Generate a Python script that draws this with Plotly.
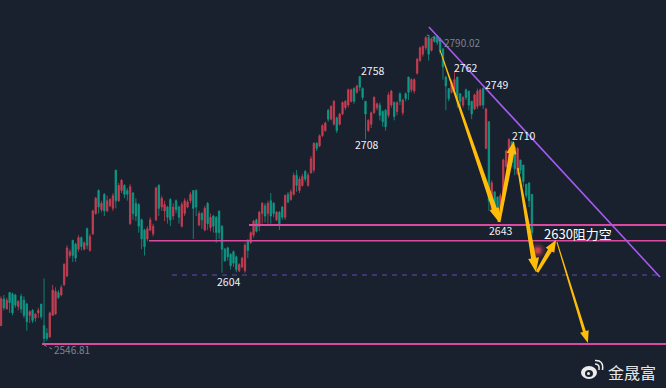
import math
import plotly.graph_objects as go

opens = [2562,2583,2575,2588,2587,2586,2577,2585,2582,2579,
2570,2574,2568,2572,2579,2562,2556,2553,2570,2571,
2588,2586,2594,2601,2617,2629,2626,2622,2631,2622,
2638,2621,2634,2650,2668,2653,2665,2652,2656,2654,
2684,2660,2668,2672,2668,2642,2666,2658,2657,2645,
2637,2630,2637,2634,2645,2672,2655,2652,2655,2661,
2648,2660,2655,2640,2650,2655,2660,2668,2668,2641,
2650,2637,2658,2639,2648,2647,2652,2640,
2622,2623,2618,2620,2616,2605,2608,2605,2628,2627,2633,2645,2640,2650,2656,2650,2660,2658,2645,2651,2655,2647,2665,2661,2665,2680,2668,2672,2683,2672,2682,2684,2705,2703,2711,2715,2731,2724,2720,2725,2720,2728,2733,2735,2738,2748,2745,2757.5,2748,2738,2715,2720,2729,2733,2735,2730,2731,2727,2735,2737,2730,2744,2729,2744,2757,2747,2746,
2760,2770,2775,2780,2788,2778,2789,2789,2787,2779,2757,2748,2745,2747,2757,2744,2735,2747,2746,2738,2732,2734,2735,2748,2701,2722,2652,2667,2663,2655,2665,2687,2688,2706,2702,2681,2692,2688,2673,2674,2665]
highs = [2585,2586,2584,2588,2588,2587,2582,2587,2585,2580,
2574,2575,2572,2576,2579,2599,2560,2573,2594,2592,
2590,2594,2611,2625,2622,2629,2627,2633,2632,2628,
2639,2634,2653,2663,2669,2660,2666,2664,2662,2666,
2684,2674,2677,2673,2670,2673,2667,2662,2658,2646,
2638,2640,2647,2642,2671,2673,2664,2660,2656,2662,
2658,2661,2656,2659,2662,2661,2667,2668,2669,2652,
2651,2656,2659,2650,2649,2648,2652,2641,
2623,2624,2619,2621,2617,2611,2616,2627,2630,2636,2645,2646,2652,2659,2658,2660,2666,2659,2652,2652,2656,2665,2667,2669,2682,2684,2679,2681,2684,2682,2695,2706,2706,2712,2720,2722,2732,2735,2739,2726,2729,2738,2739,2748,2748,2749,2751,2757.5,2749,2738,2724,2730,2742,2737,2737,2731,2732,2745,2747,2738,2738,2745,2740,2745,2757,2756,2756,
2772,2781,2782,2789,2789,2788,2789,2790.02,2788,2780,2758,2748,2755,2761.5,2757,2744,2742,2748,2746,2738,2744,2748,2748,2749,2733,2722,2676,2667,2663,2666,2693,2700,2709,2707,2703,2702,2692,2688,2673,2674,2665]
lows = [2562,2574,2575,2572,2570,2576,2574,2572,2568,2558,
2564,2564,2565,2568,2567,2546.81,2550,2553,2570,2571,
2583,2585,2593,2600,2615,2612,2612,2620,2621,2621,
2622,2620,2633,2649,2650,2651,2648,2651,2655,2652,
2654,2659,2666,2662,2660,2641,2645,2644,2635,2622,
2617,2628,2636,2632,2644,2648,2652,2644,2642,2640,
2645,2650,2642,2639,2648,2654,2658,2630,2648,2640,
2638,2636,2637,2636,2635,2627,2630,2603.5,
2612,2613,2606,2608,2604,2604,2607,2603.5,2615,2626,2631,2635,2636,2642,2643,2642,2642,2647,2644,2637,2645,2645,2658,2660,2664,2667,2666,2671,2675,2671,2681,2682,2699,2702,2710,2714,2722,2723,2719,2713,2719,2727,2731,2733,2737,2736,2744,2746,2739,2708,2714,2717,2728,2731,2723,2718,2715,2725,2733,2723,2727,2735,2727,2738,2739,2745,2744,
2759,2769,2773,2778,2770,2777,2784,2782,2775,2755,2731,2738,2744,2745,2733,2733,2733,2739,2731,2724,2731,2732,2734,2732,2701,2652,2651,2650,2645,2652,2664,2686,2686,2686,2680,2680,2681,2671,2662,2655,2632]
closes = [2583,2576,2582,2580,2572,2578,2581,2575,2570,2565,
2573,2566,2571,2574,2569,2552,2552,2572,2590,2589,
2584,2592,2610,2623,2620,2617,2615,2631,2624,2627,
2625,2632,2652,2662,2655,2658,2652,2660,2661,2664,
2660,2672,2676,2665,2665,2671,2650,2648,2640,2630,
2624,2638,2645,2640,2670,2654,2662,2657,2647,2645,
2655,2653,2647,2657,2660,2659,2665,2654,2655,2650,
2645,2654,2642,2647,2640,2635,2635,2622,
2613,2616,2609,2611,2606,2610,2615,2625,2621,2635,2644,2636,2651,2658,2648,2658,2648,2650,2651,2642,2647,2664,2659,2667,2680,2672,2677,2679,2677,2680,2693,2705,2701,2711,2719,2721,2724,2734,2738,2715,2728,2737,2738,2747,2747,2738,2750,2749,2741,2728,2723,2729,2741,2736,2727,2722,2718,2743,2746,2726,2737,2738,2739,2740,2745,2755,2755,
2771,2780,2781,2788,2775,2787,2785,2784,2777,2765,2750,2740,2753,2755,2740,2738,2741,2741,2735,2728,2743,2746,2747,2735,2732,2660,2674,2655,2650,2664,2692,2699,2708,2690,2685,2701,2684,2675,2664,2660,2635]

level_prices = [2641.0, 2628.6, 2547.6]
level_starts = [86.4, 51.6, 14.3]
level_widths = [2, 1.7, 1.8]
support_price = 2601.7
support_range = [59.6, 230]
trend_x = [149.1, 229.6]
trend_y = [2796.3, 2600.2]

arrow_x0 = [153.0, 173.5, 180.1, 186.8, 193.7]
arrow_y0 = [2778.0, 2643.3, 2685.7, 2604.0, 2627.6]
arrow_x1 = [173.5, 178.7, 186.4, 193.4, 204.5]
arrow_y1 = [2643.3, 2706.9, 2604.1, 2629.2, 2548.4]
arrow_tail = [1, 3, 1.5, 3, 1]
arrow_neck = [5, 5, 5, 4.5, 3]
arrow_head = [10, 10, 11, 10, 9]
arrow_hlen = [14, 13, 14, 12, 12]

label_text = ["2758", "2708", "2604", "2762", "2749", "2710", "2643"]
label_x = [129.5, 127.2, 79.1, 162.0, 172.5, 182.2, 174.0]
label_y = [2761.8, 2704.3, 2596.5, 2764.4, 2750.8, 2710.8, 2636.5]
extreme_text = ["2790.02", "2546.81"]
extreme_x = [153.8, 17.6]
extreme_y = [2784.5, 2543.0]

W, H = 666, 388
PX_BAR = 2.87
PRICE_PER_PX = 0.7845
y_range = [2546.81 - (H - 345) * PRICE_PER_PX, 2546.81 + 345 * PRICE_PER_PX]
x_range = [-1 / PX_BAR, (W - 1) / PX_BAR]
BG = "#19202e"
PINK = "#dc4aa0"
YELLOW = "#ffbd0a"

fig = go.Figure()
fig.add_trace(go.Candlestick(
    x=list(range(len(opens))), open=opens, high=highs, low=lows, close=closes,
    increasing=dict(line=dict(color="#c83f52", width=0.8), fillcolor="#c83f52"),
    decreasing=dict(line=dict(color="#0e9a86", width=0.8), fillcolor="#0e9a86"),
    whiskerwidth=0, hoverinfo="skip", showlegend=False))

for p, s, w in zip(level_prices, level_starts, level_widths):
    fig.add_trace(go.Scatter(x=[s, x_range[1]], y=[p, p], mode="lines",
                             line=dict(color=PINK, width=w), hoverinfo="skip", showlegend=False))
fig.add_trace(go.Scatter(x=support_range, y=[support_price] * 2, mode="lines",
                         line=dict(color="#6a4db0", width=1, dash="5px,5px"), hoverinfo="skip", showlegend=False))
fig.add_trace(go.Scatter(x=trend_x, y=trend_y, mode="lines",
                         line=dict(color="#a55af0", width=1.6), hoverinfo="skip", showlegend=False))

for size, alpha in [(16, .12), (12, .2), (8, .35), (5, .55)]:
    fig.add_trace(go.Scatter(x=[187.0], y=[2621.0], mode="markers",
                             marker=dict(size=size, color=f"rgba(240,75,95,{alpha})", line=dict(width=0)),
                             hoverinfo="skip", showlegend=False))

def arrow_poly(x0, y0, x1, y1, tail, neck, head, hlen):
    px0, py0 = x0 * PX_BAR, y0 / PRICE_PER_PX
    px1, py1 = x1 * PX_BAR, y1 / PRICE_PER_PX
    L = math.hypot(px1 - px0, py1 - py0)
    ux, uy = (px1 - px0) / L, (py1 - py0) / L
    nx, ny = -uy, ux
    bx, by = px1 - ux * hlen, py1 - uy * hlen
    pts = [(px0 + nx * tail / 2, py0 + ny * tail / 2),
           (bx + nx * neck / 2, by + ny * neck / 2),
           (bx + nx * head / 2, by + ny * head / 2),
           (px1, py1),
           (bx - nx * head / 2, by - ny * head / 2),
           (bx - nx * neck / 2, by - ny * neck / 2),
           (px0 - nx * tail / 2, py0 - ny * tail / 2)]
    pts.append(pts[0])
    return [p[0] / PX_BAR for p in pts], [p[1] * PRICE_PER_PX for p in pts]

for a in zip(arrow_x0, arrow_y0, arrow_x1, arrow_y1, arrow_tail, arrow_neck, arrow_head, arrow_hlen):
    xs, ys = arrow_poly(*a)
    fig.add_trace(go.Scatter(x=xs, y=ys, mode="lines", fill="toself", fillcolor=YELLOW,
                             line=dict(width=0, color=YELLOW), hoverinfo="skip", showlegend=False))

fig.add_trace(go.Scatter(x=[148.4, 153.0], y=[2790.02, 2785.5], mode="lines",
                         line=dict(color="#7d8490", width=1, dash="dot"), hoverinfo="skip", showlegend=False))
fig.add_trace(go.Scatter(x=[15, 18], y=[2546.81, 2543.5], mode="lines",
                         line=dict(color="#7d8490", width=1, dash="dot"), hoverinfo="skip", showlegend=False))

ann = []
FONT = "Noto Sans CJK SC, Noto Sans, sans-serif"
for t, x, y in zip(label_text, label_x, label_y):
    ann.append(dict(x=x, y=y, text=t, showarrow=False, xanchor="center", yanchor="middle",
                    font=dict(family=FONT, size=10.5, color="#f2f2f2")))
for t, x, y in zip(extreme_text, extreme_x, extreme_y):
    ann.append(dict(x=x, y=y, text=t, showarrow=False, xanchor="left", yanchor="middle",
                    font=dict(family=FONT, size=10, color="#7d8490")))
ann.append(dict(x=188.6, y=2633.9, text="2630阻力空", showarrow=False, xanchor="left", yanchor="middle",
                font=dict(family=FONT, size=13, color="#ffffff")))
ann.append(dict(xref="paper", yref="paper", x=606 / W, y=1 - 372 / H, text="金晟富", showarrow=False,
                xanchor="left", yanchor="middle",
                font=dict(family=FONT, size=16, color="#e6e6e6")))

def px(x): return x / W
def py(y): return 1 - y / H
logo = [
    dict(type="circle", xref="paper", yref="paper", x0=px(581), x1=px(597), y0=py(379), y1=py(366),
         fillcolor="#ececec", line=dict(width=0)),
    dict(type="circle", xref="paper", yref="paper", x0=px(585), x1=px(593), y0=py(377), y1=py(370),
         fillcolor=BG, line=dict(width=0)),
    dict(type="circle", xref="paper", yref="paper", x0=px(587), x1=px(590), y0=py(375), y1=py(372),
         fillcolor="#ececec", line=dict(width=0)),
    dict(type="path", xref="paper", yref="paper",
         path=f"M {px(595)} {py(364)} Q {px(600)} {py(364)} {px(599)} {py(370)}",
         line=dict(color="#ececec", width=1.5)),
    dict(type="path", xref="paper", yref="paper",
         path=f"M {px(595)} {py(360.5)} Q {px(604)} {py(360)} {px(602.5)} {py(370)}",
         line=dict(color="#ececec", width=1.5)),
]

fig.update_layout(
    width=W, height=H, margin=dict(l=0, r=0, t=0, b=0),
    paper_bgcolor=BG, plot_bgcolor=BG, showlegend=False,
    annotations=ann, shapes=logo,
    xaxis=dict(range=x_range, visible=False, rangeslider=dict(visible=False), fixedrange=True),
    yaxis=dict(range=y_range, visible=False, fixedrange=True),
)
fig.write_html("out.html", config=dict(displayModeBar=False),
               post_script="document.body.style.margin='0';document.body.style.background='#19202e';document.documentElement.style.overflow='hidden';")
